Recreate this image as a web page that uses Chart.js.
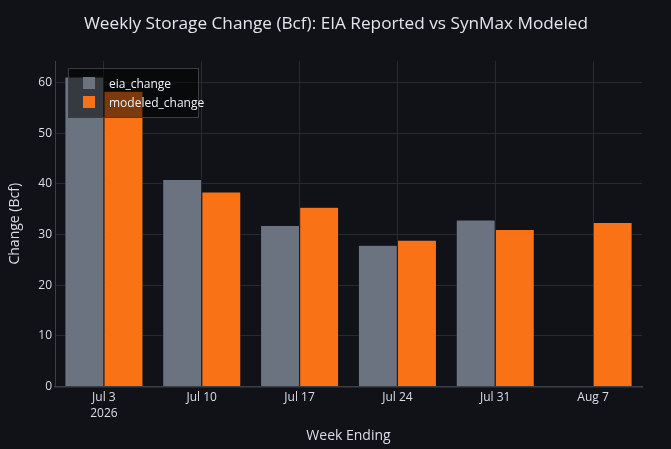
<!DOCTYPE html>
<html>
<head>
<meta charset="utf-8">
<title>Weekly Storage Change</title>
<script src="https://cdn.jsdelivr.net/npm/chart.js@4.4.1/dist/chart.umd.min.js"></script>
<style>
  html, body { margin: 0; padding: 0; background: #111217; }
  #wrap { width: 671px; height: 449px; position: relative; }
</style>
</head>
<body>
<div id="wrap"><canvas id="chart"></canvas></div>
<script>
// week ending labels (first one carries the year, like the original axis)
var weekLabels = [['Jul 3', '2026'], 'Jul 10', 'Jul 17', 'Jul 24', 'Jul 31', 'Aug 7'];
// EIA reported weekly change, Bcf (no report yet for Aug 7)
var eiaChange = [61.1, 40.9, 31.8, 27.9, 32.9, null];
// SynMax modeled weekly change, Bcf
var modeledChange = [58.3, 38.4, 35.4, 28.9, 31.0, 32.4];
var yTicks = [0, 10, 20, 30, 40, 50, 60];

var chartTitle = 'Weekly Storage Change (Bcf): EIA Reported vs SynMax Modeled';
var bg = '#111217';
var gridCol = '#272a30';
var textCol = '#d9dee6';

// title centred on the whole page, not just the plot
var pageTitle = {
    id: 'pageTitle',
    afterDraw: function(chart) {
        var ctx = chart.ctx;
        ctx.save();
        ctx.font = '17.2px "Open Sans"';
        ctx.fillStyle = '#e2e6ec';
        ctx.textAlign = 'center';
        ctx.textBaseline = 'middle';
        ctx.fillText(chartTitle, chart.width / 2 + 0.5, 24.5);
        ctx.restore();
    }
};

// legend box drawn over the plot, semi transparent like the original
var boxLegend = {
    id: 'boxLegend',
    afterDraw: function(chart) {
        var ctx = chart.ctx;
        ctx.save();
        ctx.fillStyle = 'rgba(0,0,0,0.5)';
        ctx.fillRect(68.5, 68.5, 130, 49);
        ctx.strokeStyle = '#3a3d44';
        ctx.lineWidth = 1;
        ctx.strokeRect(68.5, 68.5, 130, 49);
        ctx.font = '12px "Open Sans"';
        ctx.textBaseline = 'middle';
        chart.data.datasets.forEach(function(ds, i) {
            var y = 83 + i * 19;
            ctx.fillStyle = ds.backgroundColor;
            ctx.fillRect(83, y - 6, 12, 12);
            ctx.fillStyle = '#eef1f5';
            ctx.fillText(ds.label, 109, y + 1.5);
        });
        ctx.restore();
    }
};

var canvas = document.getElementById('chart');
var myChart = new Chart(canvas, {
    type: 'bar',
    data: {
        labels: weekLabels,
        datasets: [{
            label: 'eia_change',
            data: eiaChange,
            backgroundColor: '#6b7280',
            borderColor: 'rgba(17,18,23,0.8)',
            borderWidth: 0.6
        }, {
            label: 'modeled_change',
            data: modeledChange,
            backgroundColor: '#f97316',
            borderColor: 'rgba(17,18,23,0.6)',
            borderWidth: 0.6
        }]
    },
    options: {
        responsive: true,
        maintainAspectRatio: false,
        animation: false,
        layout: { padding: { left: 0, right: 29, top: 61, bottom: 0 } },
        datasets: { bar: { categoryPercentage: 0.8, barPercentage: 1.0 } },
        plugins: {
            legend: { display: false },
            tooltip: { enabled: false },
            title: { display: false }
        },
        scales: {
            x: {
                offset: true,
                grid: { color: gridCol, offset: false, drawTicks: false },
                border: { color: '#3b3e45', width: 1.5 },
                ticks: {
                    color: textCol,
                    font: { family: 'Open Sans', size: 12, lineHeight: 1.333 },
                    padding: 3,
                    maxRotation: 0
                },
                title: {
                    display: true,
                    text: 'Week Ending',
                    color: textCol,
                    font: { family: 'Open Sans', size: 14 },
                    padding: { top: 4, bottom: 5 }
                },
                afterFit: function(scale) { scale.height = 449 - 386.5; }
            },
            y: {
                min: 0,
                max: 64.25,
                grid: { color: gridCol, drawTicks: false },
                border: { color: '#3b3e45', width: 1 },
                afterBuildTicks: function(scale) {
                    scale.ticks = yTicks.map(function(v) { return { value: v }; });
                },
                ticks: {
                    color: textCol,
                    font: { family: 'Open Sans', size: 12 },
                    padding: 3
                },
                title: {
                    display: true,
                    text: 'Change (Bcf)',
                    color: textCol,
                    font: { family: 'Open Sans', size: 14 },
                    padding: { top: 7, bottom: 0 }
                },
                afterFit: function(scale) { scale.width = 55; }
            }
        }
    },
    plugins: [{
        id: 'bgFill',
        beforeDraw: function(chart) {
            var ctx = chart.ctx;
            ctx.save();
            ctx.fillStyle = bg;
            ctx.fillRect(0, 0, chart.width, chart.height);
            ctx.restore();
        }
    }, pageTitle, boxLegend]
});
</script>
</body>
</html>
